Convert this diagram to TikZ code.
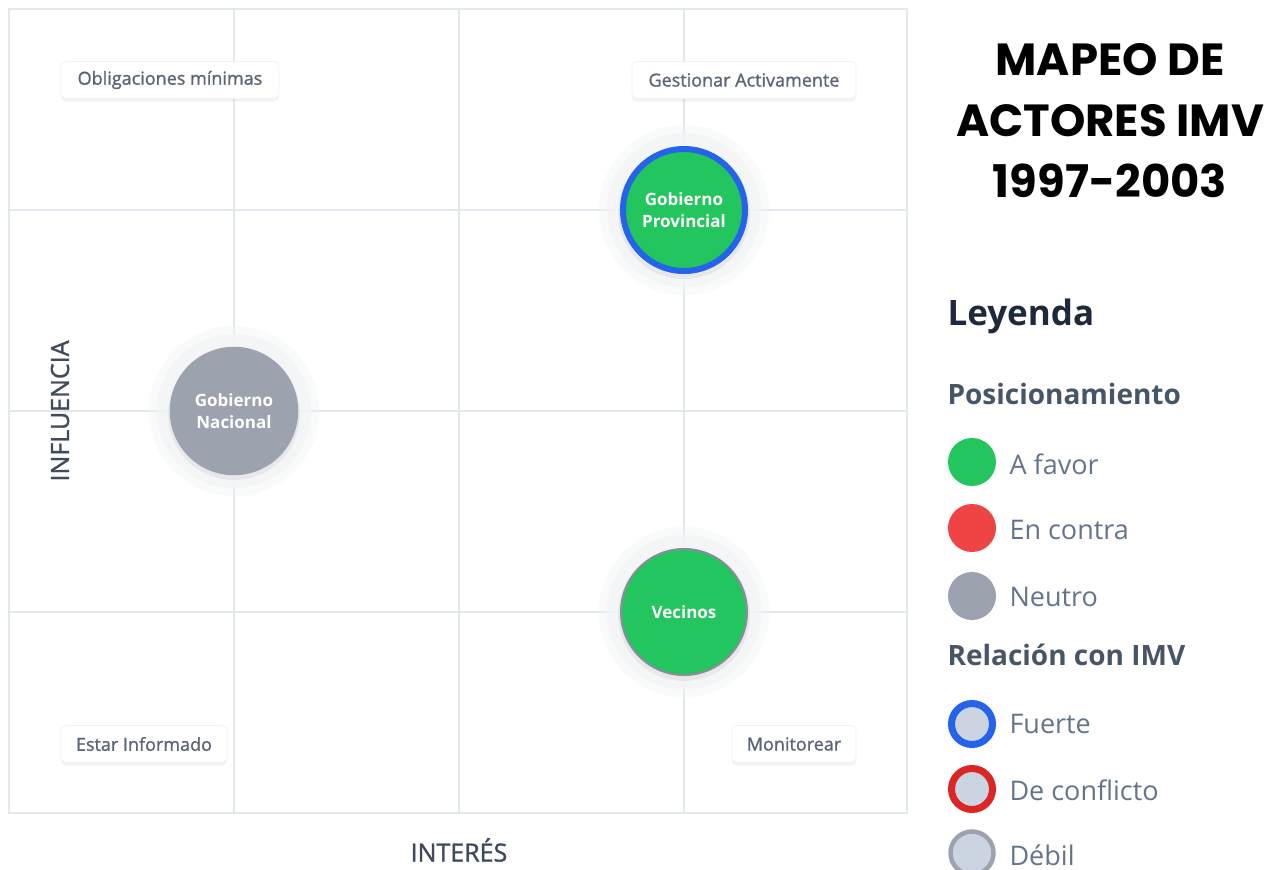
\documentclass[tikz,border=0pt]{standalone}
\usepackage{fontspec}
\setmainfont{Open Sans}
\newfontfamily\titlefont{Poppins}
\newfontfamily\medfont{Open Sans}[UprightFeatures={FakeBold=1.2}]
\begin{document}
\definecolor{gridline}{HTML}{E2E8F0}
\definecolor{favor}{HTML}{22C55E}
\definecolor{contra}{HTML}{EF4444}
\definecolor{neutro}{HTML}{9CA3AF}
\definecolor{fuerte}{HTML}{2563EB}
\definecolor{conflicto}{HTML}{DC2626}
\definecolor{debil}{HTML}{9CA3AF}
\definecolor{vecborde}{HTML}{8A8D9A}
\definecolor{chip}{HTML}{CBD5E1}
\definecolor{labeltext}{HTML}{5B6577}
\definecolor{axistext}{HTML}{3F4A5C}
\definecolor{legtext}{HTML}{64748B}
\definecolor{leghead}{HTML}{475569}
\definecolor{legtitle}{HTML}{1E293B}
\definecolor{halo}{HTML}{F3F4F6}
\begin{tikzpicture}[x=1pt,y=-1pt,
  quadlabel/.style={draw=gray!10, line width=0.8pt, fill=white, rounded corners=5pt,
    text=labeltext, inner xsep=0pt, inner ysep=0pt, minimum height=37pt,
    font=\medfont\fontsize{18}{20}\selectfont,
    preaction={fill=black, opacity=0.05, transform canvas={yshift=-3pt}}},
  actor/.style={circle, minimum size=124pt, inner sep=0pt, align=center, text=white,
    font=\bfseries\fontsize{17}{22}\selectfont},
  legdot/.style={circle, minimum size=48pt, inner sep=0pt},
  legring/.style={circle, minimum size=41pt, inner sep=0pt, fill=chip, line width=7pt},
  legitem/.style={anchor=west, text=legtext, font=\fontsize{27}{30}\selectfont},
  leghead/.style={anchor=west, text=leghead, font=\bfseries\fontsize{28}{32}\selectfont}]
\useasboundingbox (0,0) rectangle (1285,870);
\fill[white] (0,0) rectangle (1285,870);

% plot frame and grid
\draw[gridline, line width=1.5pt] (9,9) rectangle (907,813);
\foreach \gx in {234,459,684} \draw[gridline, line width=1.5pt] (\gx,9) -- (\gx,813);
\foreach \gy in {210,411,612} \draw[gridline, line width=1.5pt] (9,\gy) -- (907,\gy);

% quadrant labels
\node[quadlabel, minimum width=218pt] (q1) at (170,80) {Obligaciones mínimas};
\node[quadlabel, minimum width=224pt] (q2) at (744,80) {Gestionar Activamente};
\node[quadlabel, minimum width=166pt] (q3) at (144,744) {Estar Informado};
\node[quadlabel, minimum width=124pt] (q4) at (794,744) {Monitorear};

% axis titles
\node[rotate=90, text=axistext, font=\medfont\fontsize{25}{28}\selectfont] (ejey) at (60,411) {INFLUENCIA};
\node[text=axistext, font=\medfont\fontsize{25}{28}\selectfont] (ejex) at (459,850) {INTERÉS};

% halos behind the actors
\foreach \ax/\ay in {684/210, 234/411, 684/612}{
  \fill[halo, opacity=0.45] (\ax,\ay) circle (85);
  \fill[halo, opacity=0.8] (\ax,\ay) circle (77);
  \fill[black, opacity=0.05] (\ax,\ay+3) circle (66);
}

% actors
\node[actor, fill=favor, draw=fuerte, line width=6pt, minimum size=122pt] (prov) at (684,210) {Gobierno\\Provincial};
\node[actor, fill=neutro, draw=neutro, line width=1.5pt, minimum size=127pt] (nac) at (234,411) {Gobierno\\Nacional};
\node[actor, fill=favor, draw=vecborde, line width=2pt, minimum size=126pt] (vec) at (684,612) {Vecinos};

% title
\node[align=center, font=\titlefont\bfseries\fontsize{45}{61}\selectfont] (titulo) at (1110,121) {MAPEO DE\\ACTORES IMV\\1997-2003};

% legend
\node[anchor=west, text=legtitle, font=\bfseries\fontsize{35}{40}\selectfont] (leyenda) at (944,316) {Leyenda};
\node[leghead] (hpos) at (944,394) {Posicionamiento};
\node[legdot, fill=favor] (dfav) at (972,462) {};
\node[legitem] (tfav) at (1006,464) {A favor};
\node[legdot, fill=contra] (dcon) at (972,528) {};
\node[legitem] (tcon) at (1006,530) {En contra};
\node[legdot, fill=neutro] (dneu) at (972,596) {};
\node[legitem] (tneu) at (1006,597) {Neutro};
\node[leghead] (hrel) at (944,655) {Relación con IMV};
\node[legring, draw=fuerte] (rfue) at (972,724) {};
\node[legitem] (tfue) at (1006,724) {Fuerte};
\node[legring, draw=conflicto] (rcon) at (972,789) {};
\node[legitem] (tcof) at (1006,790) {De conflicto};
\node[legring, draw=debil, line width=4.5pt, minimum size=43pt] (rdeb) at (972,853) {};
\node[legitem] (tdeb) at (1006,855) {Débil};
\end{tikzpicture}
\end{document}
